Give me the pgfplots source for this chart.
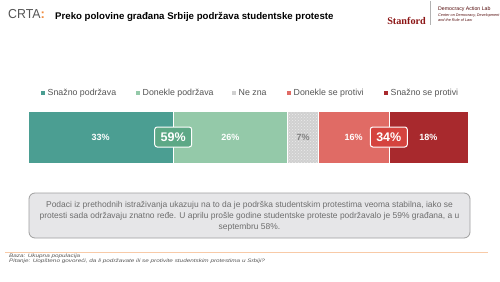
\documentclass[border=0pt]{standalone}
\usepackage{pgfplots}
\pgfplotsset{compat=1.18}
\usetikzlibrary{patterns}
\usepackage{fontspec}
\setmainfont{Liberation Sans}
\newfontfamily\stanfordfont{Liberation Serif}

\definecolor{strongsup}{HTML}{4B9E92}
\definecolor{somesup}{HTML}{94C9A9}
\definecolor{dontknow}{HTML}{D0D0D0}
\definecolor{someopp}{HTML}{E06B65}
\definecolor{strongopp}{HTML}{A8292D}
\definecolor{supbox}{HTML}{5DA886}
\definecolor{oppbox}{HTML}{D5433E}
\definecolor{crtagray}{HTML}{555555}
\definecolor{crtaorange}{HTML}{F08A3C}
\definecolor{stanred}{HTML}{8C1515}
\definecolor{notebox}{HTML}{E6E6E8}
\definecolor{textgray}{HTML}{555555}

\newcommand{\fs}[1]{\fontsize{#1}{1.2\dimexpr#1pt\relax}\selectfont}

\pgfplotsset{barframe/.style={at={(28pt,-163pt)}, anchor=south west, scale only axis,
  width=440pt, height=52pt, xmin=0, xmax=100, ymin=0.5, ymax=1.5,
  hide axis, clip=false}}

\begin{document}
\begin{tikzpicture}
\begin{scope}[x=1pt,y=-1pt]
\path[fill=white] (0,0) rectangle (500,281);

% header
\node[anchor=west, inner sep=0, text=crtagray] at (8,14.5)
  {\fs{13}\scalebox{0.95}[1]{CRTA}\textcolor{crtaorange}{\textbf{:}}};
\node[anchor=west, inner sep=0] at (55,17)
  {\fs{9.65}\textbf{Preko polovine građana Srbije podržava studentske proteste}};
\node[anchor=east, inner sep=0, text=stanred] at (426,20.5)
  {\stanfordfont\fs{10.2}\textbf{Stanford}};
\draw[gray!60, line width=0.4pt] (430.5,1) -- (430.5,25);
\node[anchor=west, inner sep=0, text=stanred!60!black] at (438,9.5)
  {\fs{5.2}Democracy Action Lab};
\node[anchor=west, inner sep=0, text=stanred!60!black] at (438,16)
  {\fs{3.8}\textit{Center on Democracy, Development}};
\node[anchor=west, inner sep=0, text=stanred!60!black] at (438,20.5)
  {\fs{3.8}\textit{and the Rule of Law}};

% legend
\foreach \mx/\col/\lab in {43/strongsup/Snažno podržava,
                           138/somesup/Donekle podržava,
                           234/dontknow/Ne zna,
                           289/someopp/Donekle se protivi,
                           386/strongopp/Snažno se protivi}{
  \fill[\col] (\mx-1.6,93-1.6) rectangle (\mx+1.6,93+1.6);
  \node[anchor=west, inner sep=0, text=textgray] at (\mx+4.5,93) {\fs{8.8}\lab};
}

% note box
\draw[fill=notebox, draw=gray!75, line width=0.8pt, rounded corners=6pt]
  (29,193) rectangle (470,238);
\node[align=center, text=textgray!85, inner sep=0, font=\fontsize{8.45}{11}\selectfont]
  at (249.5,216.5)
  {Podaci iz prethodnih istraživanja ukazuju na to da je podrška studentskim protestima veoma stabilna, iako se\\
   protesti sada održavaju znatno ređe. U aprilu prošle godine studentske proteste podržavalo je 59\% građana, a u\\
   septembru 58\%.};

% footer
\draw[crtaorange!45, line width=0.6pt] (5,252) -- (488,252);
\node[anchor=west, inner sep=0, text=textgray] at (9,256.5)
  {\scalebox{1.3}[1]{\fs{4.9}\textit{Baza: Ukupna populacija}}};
\node[anchor=west, inner sep=0, text=textgray] at (9,261)
  {\scalebox{1.3}[1]{\fs{4.9}\textit{Pitanje: Uopšteno govoreći, da li podržavate ili se protivite studentskim protestima u Srbiji?}}};
\end{scope}

% stacked bar
\begin{axis}[barframe, xbar stacked, bar width=52pt]
\addplot[fill=strongsup, draw=white, line width=0.5pt] coordinates {(33,1)};
\addplot[fill=somesup, draw=white, line width=0.5pt] coordinates {(26,1)};
\addplot[fill=dontknow, draw=white, line width=0.5pt,
  postaction={pattern=crosshatch dots, pattern color=white!85!gray}] coordinates {(7,1)};
\addplot[fill=someopp, draw=white, line width=0.5pt] coordinates {(16,1)};
\addplot[fill=strongopp, draw=white, line width=0.5pt] coordinates {(18,1)};
\end{axis}

% segment labels and totals, on top of the bar
\begin{axis}[barframe]
\addplot[draw=none] coordinates {(0,1) (100,1)};
\node[text=white, font=\bfseries\fontsize{9}{10}\selectfont] at (axis cs:16.5,1) {33\%};
\node[text=white, font=\bfseries\fontsize{9}{10}\selectfont] at (axis cs:46,1) {26\%};
\node[text=gray, font=\bfseries\fontsize{9}{10}\selectfont] at (axis cs:62.5,1) {7\%};
\node[text=white, font=\bfseries\fontsize{9}{10}\selectfont] at (axis cs:74,1) {16\%};
\node[text=white, font=\bfseries\fontsize{9}{10}\selectfont] at (axis cs:91,1) {18\%};

\node[fill=supbox, draw=white, line width=1pt, rounded corners=2.5pt,
  text=white, font=\bfseries\fontsize{12.5}{14}\selectfont,
  minimum width=37pt, minimum height=20pt, inner sep=1pt]
  at (axis cs:33,1) {59\%};
\node[fill=oppbox, draw=white, line width=1pt, rounded corners=2.5pt,
  text=white, font=\bfseries\fontsize{12.5}{14}\selectfont,
  minimum width=37pt, minimum height=20pt, inner sep=1pt]
  at (axis cs:82,1) {34\%};
\end{axis}
\end{tikzpicture}
\end{document}
